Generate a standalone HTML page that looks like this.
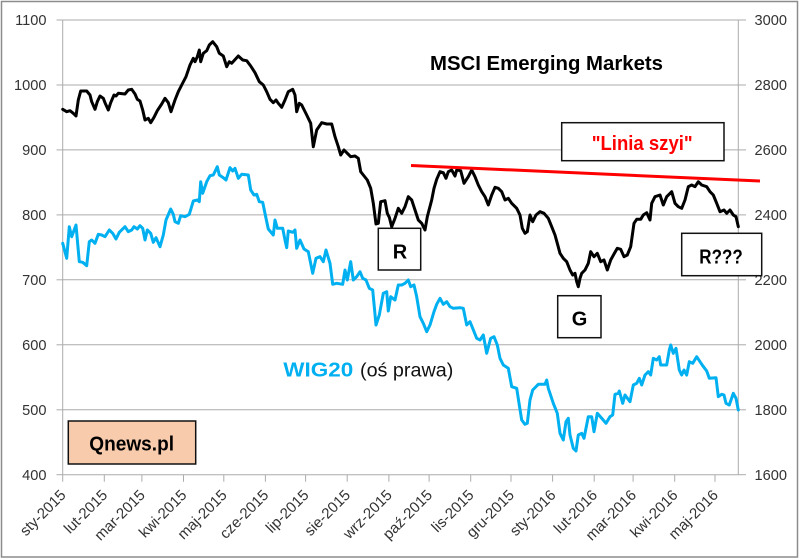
<!DOCTYPE html>
<html>
<head>
<meta charset="utf-8">
<style>
html,body{margin:0;padding:0;background:#fff;}
svg{display:block;}
text{font-family:"Liberation Sans",Arial,sans-serif;}
</style>
</head>
<body>
<svg width="800" height="560" viewBox="0 0 800 560" xmlns="http://www.w3.org/2000/svg">
<rect x="0" y="0" width="800" height="560" fill="#fff"/>
<rect x="1.5" y="1.5" width="796" height="555.5" fill="none" stroke="#8c8c8c" stroke-width="1.5"/>

<!-- gridlines -->
<g stroke="#ababab" stroke-width="1" fill="none">
<line x1="62.7" y1="20" x2="738.3" y2="20"/>
<line x1="62.7" y1="85" x2="738.3" y2="85"/>
<line x1="62.7" y1="149.9" x2="738.3" y2="149.9"/>
<line x1="62.7" y1="214.9" x2="738.3" y2="214.9"/>
<line x1="62.7" y1="279.8" x2="738.3" y2="279.8"/>
<line x1="62.7" y1="344.8" x2="738.3" y2="344.8"/>
<line x1="62.7" y1="409.8" x2="738.3" y2="409.8"/>
<line x1="62.7" y1="474.7" x2="738.3" y2="474.7"/>
<!-- axes -->
<line x1="62.7" y1="20" x2="62.7" y2="474.7"/>
<line x1="738.3" y1="20" x2="738.3" y2="474.7"/>
<!-- left ticks -->
<line x1="56.5" y1="20" x2="62.7" y2="20"/>
<line x1="56.5" y1="85" x2="62.7" y2="85"/>
<line x1="56.5" y1="149.9" x2="62.7" y2="149.9"/>
<line x1="56.5" y1="214.9" x2="62.7" y2="214.9"/>
<line x1="56.5" y1="279.8" x2="62.7" y2="279.8"/>
<line x1="56.5" y1="344.8" x2="62.7" y2="344.8"/>
<line x1="56.5" y1="409.8" x2="62.7" y2="409.8"/>
<line x1="56.5" y1="474.7" x2="62.7" y2="474.7"/>
<!-- right ticks -->
<line x1="738.3" y1="20" x2="746" y2="20"/>
<line x1="738.3" y1="85" x2="746" y2="85"/>
<line x1="738.3" y1="149.9" x2="746" y2="149.9"/>
<line x1="738.3" y1="214.9" x2="746" y2="214.9"/>
<line x1="738.3" y1="279.8" x2="746" y2="279.8"/>
<line x1="738.3" y1="344.8" x2="746" y2="344.8"/>
<line x1="738.3" y1="409.8" x2="746" y2="409.8"/>
<line x1="738.3" y1="474.7" x2="746" y2="474.7"/>
<!-- x ticks -->
<line x1="62.7" y1="474.7" x2="62.7" y2="481.7"/>
<line x1="104.3" y1="474.7" x2="104.3" y2="481.7"/>
<line x1="141.9" y1="474.7" x2="141.9" y2="481.7"/>
<line x1="183.5" y1="474.7" x2="183.5" y2="481.7"/>
<line x1="223.8" y1="474.7" x2="223.8" y2="481.7"/>
<line x1="265.4" y1="474.7" x2="265.4" y2="481.7"/>
<line x1="305.6" y1="474.7" x2="305.6" y2="481.7"/>
<line x1="347.2" y1="474.7" x2="347.2" y2="481.7"/>
<line x1="388.9" y1="474.7" x2="388.9" y2="481.7"/>
<line x1="429.1" y1="474.7" x2="429.1" y2="481.7"/>
<line x1="470.7" y1="474.7" x2="470.7" y2="481.7"/>
<line x1="511" y1="474.7" x2="511" y2="481.7"/>
<line x1="552.6" y1="474.7" x2="552.6" y2="481.7"/>
<line x1="594.2" y1="474.7" x2="594.2" y2="481.7"/>
<line x1="633.1" y1="474.7" x2="633.1" y2="481.7"/>
<line x1="674.7" y1="474.7" x2="674.7" y2="481.7"/>
<line x1="715" y1="474.7" x2="715" y2="481.7"/>
</g>

<!-- left axis labels -->
<g font-size="14.6" fill="#333" text-anchor="end">
<text x="46.5" y="25">1100</text>
<text x="46.5" y="90">1000</text>
<text x="46.5" y="155">900</text>
<text x="46.5" y="220">800</text>
<text x="46.5" y="285">700</text>
<text x="46.5" y="350">600</text>
<text x="46.5" y="415">500</text>
<text x="46.5" y="480">400</text>
</g>
<!-- right axis labels -->
<g font-size="14.6" fill="#333">
<text x="754.5" y="25">3000</text>
<text x="754.5" y="90">2800</text>
<text x="754.5" y="155">2600</text>
<text x="754.5" y="220">2400</text>
<text x="754.5" y="285">2200</text>
<text x="754.5" y="350">2000</text>
<text x="754.5" y="415">1800</text>
<text x="754.5" y="480">1600</text>
</g>
<!-- x labels -->
<g font-size="15" fill="#333" text-anchor="end">
<text transform="translate(66.7,496) rotate(-45)">sty-2015</text>
<text transform="translate(108.3,496) rotate(-45)">lut-2015</text>
<text transform="translate(145.9,496) rotate(-45)">mar-2015</text>
<text transform="translate(187.5,496) rotate(-45)">kwi-2015</text>
<text transform="translate(227.8,496) rotate(-45)">maj-2015</text>
<text transform="translate(269.4,496) rotate(-45)">cze-2015</text>
<text transform="translate(309.6,496) rotate(-45)">lip-2015</text>
<text transform="translate(351.2,496) rotate(-45)">sie-2015</text>
<text transform="translate(392.9,496) rotate(-45)">wrz-2015</text>
<text transform="translate(433.1,496) rotate(-45)">paź-2015</text>
<text transform="translate(474.7,496) rotate(-45)">lis-2015</text>
<text transform="translate(515,496) rotate(-45)">gru-2015</text>
<text transform="translate(556.6,496) rotate(-45)">sty-2016</text>
<text transform="translate(598.2,496) rotate(-45)">lut-2016</text>
<text transform="translate(637.1,496) rotate(-45)">mar-2016</text>
<text transform="translate(678.7,496) rotate(-45)">kwi-2016</text>
<text transform="translate(719,496) rotate(-45)">maj-2016</text>
</g>

<!-- WIG20 series -->
<polyline fill="none" stroke="#00b0f0" stroke-width="3" stroke-linejoin="round" stroke-linecap="round" points="62.7,243.3 66.7,258.3 69.3,226.7 71.7,236.7 76,225 79.3,261.7 82.7,262.3 86.7,265.7 89.3,241.7 91.7,240 95,243.3 98.3,234.3 101.7,235 105,236.7 109.3,230 112.7,233.3 116,239 119.3,232.3 125,226.7 128.3,231.7 131.7,230 134,226.7 137.3,229 140,225.7 142.7,228.3 145,240 147.3,230 150.7,233.3 153.3,242.3 156,237.7 160,246.7 163.3,235 166,220 170.7,209 173.3,214.3 175,221.7 178.3,223.3 180.7,215.7 185,216.7 189.3,214.3 193.3,201 197.3,200 199.3,201.7 200.7,181.7 202.7,193.3 206.7,181.7 210,175.7 213.3,175 217.3,166.7 219.3,175 223.3,177.7 226,180 230,167.7 232.7,171 235,168.3 238.3,178.3 241.7,174.3 248.3,175 250.7,190 254,195 256.7,194.3 259.3,201.7 262.7,202.3 266,218.3 268.3,229 273.3,235 275,220 277.3,228.3 282.7,228.3 285,240 286.7,247.7 288.3,231 292.7,232.3 295,230 296.7,248.3 300,240 304,249 308.3,251.7 312.7,273.3 316,258.3 320,256.7 323.3,261.7 326,250 330,263.3 332.7,284.3 336.7,283.3 342.7,284.3 345,270 347.3,280 350.7,261.7 353.3,280 356.7,276.7 360,271.7 362.7,278.3 366,280 369.3,288.3 372.7,290 376,325 379.3,315 383.3,293.3 386.7,291.7 388.3,311 390.7,296.7 395,300 398.3,285 401.7,285 405,283.3 408.3,280 410.7,286.7 414,285 416.7,296.7 420,316.7 423.3,323.3 426.7,331.7 430,325 434,311.7 436.7,304.3 440,298.3 443.3,304.3 446.7,301.7 450,306.7 453.3,308.3 460,307.7 463.3,308.3 466.7,325 470,321.7 472.7,328.3 476.7,338.3 480,340 483.3,335 486.7,353.3 490.7,338.3 494,336.7 497.3,345 500,358.3 503.3,365 508.3,368.3 511.7,386.7 516.7,388.3 519.3,405 521.7,420 525,424.3 527.3,423.3 530,400 532.7,390 538.3,384.3 545,384.3 546.7,380 548.3,388.3 553.3,403.3 557.3,413.3 560,433.3 563.3,440 566,421.7 568.3,418.3 570,435 573.3,448.3 576,451 578.3,435 581.7,433.3 584,438.3 588.3,416.7 591.7,416.7 594,431.7 597.3,413.3 601.7,418.3 606,423.3 610,416.7 612.7,415 615,394.3 618.3,393.3 619.3,391 622.7,403.3 625,395 630,401.7 633.3,385 636.7,383.3 639.3,378.3 641.7,385 645,375 648.3,371.7 650.7,375 653.3,358.3 656.7,360 659.3,356.7 660.7,365 666.7,365 669.3,350 670.7,345 673.3,353.3 676,348.3 679.3,370 681.7,375 684,370 686.7,375 689.3,361.7 692.7,363.3 696.7,356.7 700,361.7 702.7,365.7 706.7,371 709.3,378.3 716,377.7 718.3,396.7 721.7,394.3 724,395 726,403.3 729.3,405 733.3,393.3 736,398.3 738.3,410"/>

<!-- MSCI EM series -->
<polyline fill="none" stroke="#000" stroke-width="3" stroke-linejoin="round" stroke-linecap="round" points="62.7,109.3 66.7,111.7 70,110.7 73.3,113.3 76,116 78.3,100 80.7,91 86.7,91 90,95 91.7,101.7 95,109.3 97.3,101.7 100,96 103.3,98.3 105,102.7 108.3,110 110.7,102.7 114,95 116,96 118.3,93.3 125,94 128.3,90 131.7,89.3 135,94 137.3,99.3 140,101 142.7,110 145,120 148.3,118.3 150.7,122.7 154,117.3 157.3,110.7 161.7,104 165,98.3 168.3,102.7 171,111.7 175,100 178.3,91.7 181.7,85 186,76.7 190,65 193.3,58.3 195,61.7 197.3,56.7 199.3,50 200.7,61.7 203.3,53.3 206.7,50.7 209.3,45 212.7,41.7 216.7,46.7 219.3,53.3 223.3,56 226.7,66.7 229.3,61.7 231.7,63.3 238.3,56 242.7,60 246.7,60.7 250.7,66 255,72.7 259.3,81.7 263.3,85 266.7,91.7 270,99.3 273.3,102.7 276,100 278.3,103.3 281.7,107.3 285,100 288.3,91.7 292.7,89.3 295,95 296.7,111.7 299.3,103.3 301.7,105 306.7,115 310.7,123.3 313.3,146.7 316.7,130 321.7,122.7 326.7,124 331.7,124 335,136.7 338.3,146.7 340.7,155 344,150 347.3,153.3 350.7,156.7 355,156 358.3,158.3 360.7,171.7 363.3,175 367.3,180 370.7,188.3 373.3,203.3 376,224 378.3,223.3 380.7,201.7 385,200.7 387.3,213.3 389.3,217.3 391.7,226.7 395,218.3 398.3,208.3 401.7,213.3 405,206.7 408.3,196.7 411.7,200 415,210 418.3,220 421.7,223.3 425,230 427.3,216.7 431.7,200 434,188.3 436.7,179.3 440,171.7 443.3,172.7 446,178.3 448.3,171.7 451.7,170 455,176 456.7,170 460.7,170.7 464,183.3 468.3,176.7 471.7,170 475,176.7 478.3,185 481.7,191.7 485,196.7 488.3,205 491.7,195 495,187.3 498.3,188.3 501.7,191.7 505,200 508.3,198.3 511.7,203.3 516.7,208.3 520,215 522.3,228.3 525,233.3 527.3,231.7 530,215 532.7,221.7 536,215 540,211.7 544,213.3 548.3,218.3 551.7,226.7 555,235 557.3,243.3 560,253.3 563.3,258.3 566.7,261.7 570,270 572.7,275 575,273.3 576.7,281.7 578.3,286.7 580,278.3 581.7,273.3 585,270 588.3,263.3 590.7,251.7 594,256.7 597.3,253.3 600.7,261.7 604,260 607.3,270 610.7,260 614,254 617.3,248.3 620.7,249.3 624,256.7 627.3,255 630.7,246.7 634,223.3 636.7,219.3 640.7,219.3 643.3,215 646.7,212.7 650,220 651.7,203.3 655,196.7 660,195 663.3,205 666.7,196.7 671.7,191.7 675,203.3 678.3,206.7 681.7,208.3 685,200 688.3,186.7 691.7,185 695,186.7 698.3,181.7 701.7,185 706.7,186.7 710,191.7 713.3,195 716.7,203.3 720,211.7 724,210 726.7,213.3 730,210 733.3,215 736,216.7 738.3,226.7"/>

<!-- neckline -->
<line x1="411" y1="165.5" x2="760" y2="181" stroke="#ff0000" stroke-width="3"/>

<!-- boxes -->
<g stroke="#111" stroke-width="1.5">
<rect x="561.7" y="122.7" width="162.3" height="38" fill="#fff"/>
<rect x="378.3" y="228.3" width="42.4" height="41.7" fill="#fff"/>
<rect x="557.7" y="295.7" width="43.3" height="42" fill="#fff"/>
<rect x="681.7" y="233.3" width="80" height="42.4" fill="#fff"/>
<rect x="68.3" y="421" width="127.4" height="43" fill="#f8cbad"/>
</g>

<!-- annotations -->
<g font-weight="bold" font-size="20">
<text x="430" y="70" textLength="233" lengthAdjust="spacingAndGlyphs" fill="#000">MSCI Emerging Markets</text>
<text x="591.7" y="150" textLength="101" lengthAdjust="spacingAndGlyphs" fill="#ff0000">"Linia szyi"</text>
<text x="400" y="258.3" text-anchor="middle" fill="#000">R</text>
<text x="579.5" y="325.5" text-anchor="middle" fill="#000">G</text>
<text x="699.3" y="263.3" textLength="43.4" lengthAdjust="spacingAndGlyphs" fill="#000">R???</text>
<text x="89.3" y="450.7" textLength="84.7" lengthAdjust="spacingAndGlyphs" fill="#000">Qnews.pl</text>
<text x="283.3" y="376.7" textLength="70" lengthAdjust="spacingAndGlyphs" fill="#00b0f0">WIG20</text>
</g>
<text x="360" y="376.7" font-size="19" textLength="93.3" lengthAdjust="spacingAndGlyphs" fill="#111">(oś prawa)</text>
</svg>
</body>
</html>
